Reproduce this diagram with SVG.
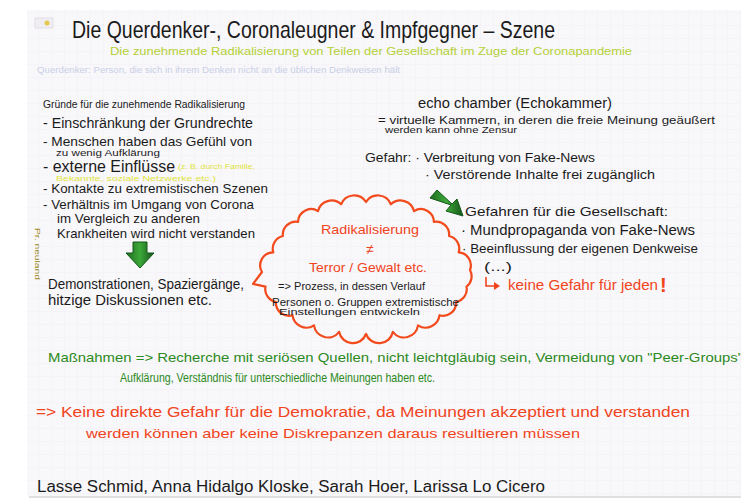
<svg xmlns="http://www.w3.org/2000/svg" width="741" height="502" viewBox="0 0 741 502">
<defs>
<style>
text{font-family:"Liberation Sans","DejaVu Sans",sans-serif}
.k{fill:#1b1b1b}
.g{fill:#2c8a22}
.r{fill:#f1441c}
.y{fill:#dfe43a}
.cloud{fill:none;stroke:#f24a1c;stroke-width:2.2;stroke-linejoin:round}
.arr{fill:url(#ga);stroke:#14561a;stroke-width:1}
</style>
<linearGradient id="ga" x1="0" y1="0" x2="1" y2="0">
<stop offset="0" stop-color="#1d6e1d"/>
<stop offset="0.5" stop-color="#3da83a"/>
<stop offset="1" stop-color="#14561a"/>
</linearGradient>
<pattern id="grid" width="13" height="13" patternUnits="userSpaceOnUse">
<path d="M13 0V13H0" fill="none" stroke="#eeedf3" stroke-width="0.6"/>
</pattern>
</defs>
<rect width="741" height="502" fill="#ffffff"/>
<g id="paper">
<rect x="29" y="12" width="720" height="486" fill="#000" opacity="0.12"/>
<rect x="27" y="10" width="716" height="486" fill="#f8f7fa"/>
<rect x="27" y="10" width="716" height="486" fill="url(#grid)"/>
<rect x="35" y="18" width="18" height="10" fill="#f0eef2" stroke="#d8d4dc" stroke-width="0.6"/>
<circle cx="47" cy="23" r="2.5" fill="#e6c84a"/>
</g>
<g id="title">
<text class="k" x="72" y="38" font-size="24" textLength="483" lengthAdjust="spacingAndGlyphs">Die Querdenker-, Coronaleugner &amp; Impfgegner – Szene</text>
<text x="110" y="55" font-size="11" fill="#b4d136" textLength="522" lengthAdjust="spacingAndGlyphs">Die zunehmende Radikalisierung von Teilen der Gesellschaft im Zuge der  Coronapandemie</text>
<text x="37" y="73" font-size="8.5" fill="#c9d0e6" textLength="363" lengthAdjust="spacingAndGlyphs">Querdenker: Person, die sich in ihrem Denken nicht an die üblichen Denkweisen hält</text>
</g>
<g id="gruende">
<text class="k" x="43" y="108" font-size="10" textLength="202" lengthAdjust="spacingAndGlyphs">Gründe für die zunehmende Radikalisierung</text>
<text class="k" x="43" y="128" font-size="14" textLength="210" lengthAdjust="spacingAndGlyphs">- Einschränkung der Grundrechte</text>
<text class="k" x="43" y="146" font-size="13" textLength="209" lengthAdjust="spacingAndGlyphs">- Menschen haben das Gefühl von</text>
<text class="k" x="56" y="156" font-size="9" textLength="104" lengthAdjust="spacingAndGlyphs">zu wenig Aufklärung</text>
<text class="k" x="43" y="172" font-size="16" textLength="132" lengthAdjust="spacingAndGlyphs">- externe Einflüsse</text>
<text class="y" x="178" y="169" font-size="8" textLength="77" lengthAdjust="spacingAndGlyphs">(z. B. durch Familie,</text>
<text class="y" x="56" y="181" font-size="8" textLength="160" lengthAdjust="spacingAndGlyphs">Bekannte, soziale Netzwerke etc.)</text>
<text class="k" x="43" y="193" font-size="12" textLength="225" lengthAdjust="spacingAndGlyphs">- Kontakte zu extremistischen Szenen</text>
<text class="k" x="43" y="209" font-size="13" textLength="211" lengthAdjust="spacingAndGlyphs">- Verhältnis im Umgang von Corona</text>
<text class="k" x="57" y="223" font-size="13" textLength="143" lengthAdjust="spacingAndGlyphs">im Vergleich zu anderen</text>
<text class="k" x="57" y="238" font-size="13" textLength="198" lengthAdjust="spacingAndGlyphs">Krankheiten wird nicht verstanden</text>
<text x="35" y="228" font-size="8" fill="#9c8a24" transform="rotate(90 35 228)" textLength="52" lengthAdjust="spacingAndGlyphs">Pr. neuland</text>
</g>
<g id="demonstrationen">
<text class="k" x="48" y="289" font-size="14" textLength="196" lengthAdjust="spacingAndGlyphs">Demonstrationen, Spaziergänge,</text>
<text class="k" x="48" y="305" font-size="14" textLength="164" lengthAdjust="spacingAndGlyphs">hitzige Diskussionen etc.</text>
</g>
<g id="radikalisierung">
<path class="cloud" d="M262 272 A13 13 0 0 1 273.3 252.4 A13 13 0 0 1 282.9 236 A13 13 0 0 1 298.1 221.9 A13 13 0 0 1 318 211.1 A14 14 0 0 1 341.1 204.3 A14 14 0 0 1 366 202 A14 14 0 0 1 390.9 204.3 A14 14 0 0 1 414 211.1 A13 13 0 0 1 433.9 221.9 A13 13 0 0 1 449.1 236 A13 13 0 0 1 458.7 252.4 A13 13 0 0 1 470 270 A13 13 0 0 1 466.5 286.6 A13 13 0 0 1 456.1 302 A13 13 0 0 1 439.5 315.2 A14 14 0 0 1 418 325.4 A14 14 0 0 1 392.9 331.8 A14 14 0 0 1 366 334 A14 14 0 0 1 339.1 331.8 A14 14 0 0 1 314 325.4 A14 14 0 0 1 292.5 315.2 A13 13 0 0 1 275.9 302 A13 13 0 0 1 265.5 286.6 L253 284 Z"/>
<text class="r" x="370" y="234" font-size="13" text-anchor="middle" textLength="98" lengthAdjust="spacingAndGlyphs">Radikalisierung</text>
<text class="r" x="370" y="254" font-size="14" text-anchor="middle">≠</text>
<text class="r" x="368" y="272" font-size="13" text-anchor="middle" textLength="118" lengthAdjust="spacingAndGlyphs">Terror / Gewalt etc.</text>
<text class="k" x="278" y="290" font-size="10" textLength="147" lengthAdjust="spacingAndGlyphs">=&gt; Prozess, in dessen Verlauf</text>
<text class="k" x="272" y="306" font-size="10" textLength="187" lengthAdjust="spacingAndGlyphs">Personen o. Gruppen extremistische</text>
<text class="k" x="279" y="315" font-size="9" textLength="141" lengthAdjust="spacingAndGlyphs">Einstellungen entwickeln</text>
</g>
<g id="echokammer">
<text class="k" x="418" y="108" font-size="14" textLength="194" lengthAdjust="spacingAndGlyphs">echo chamber (Echokammer)</text>
<text class="k" x="378" y="124" font-size="10" textLength="337" lengthAdjust="spacingAndGlyphs">= virtuelle Kammern, in deren die freie Meinung geäußert</text>
<text class="k" x="385" y="133" font-size="9" textLength="132" lengthAdjust="spacingAndGlyphs">werden kann ohne Zensur</text>
<text class="k" x="365" y="162" font-size="12" textLength="230" lengthAdjust="spacingAndGlyphs">Gefahr: · Verbreitung von Fake-News</text>
<text class="k" x="425" y="179" font-size="12" textLength="230" lengthAdjust="spacingAndGlyphs">· Verstörende Inhalte frei zugänglich</text>
</g>
<g id="gefahren">
<text class="k" x="465" y="216" font-size="13" textLength="203" lengthAdjust="spacingAndGlyphs">Gefahren für die Gesellschaft:</text>
<text class="k" x="461" y="235" font-size="14" textLength="234" lengthAdjust="spacingAndGlyphs">· Mundpropaganda von Fake-News</text>
<text class="k" x="462" y="253" font-size="13" textLength="236" lengthAdjust="spacingAndGlyphs">· Beeinflussung der eigenen Denkweise</text>
<text class="k" x="484" y="271" font-size="13" textLength="28" lengthAdjust="spacingAndGlyphs">(...)</text>
<path d="M486 277V286H495" fill="none" stroke="#f1441c" stroke-width="1.6"/>
<path d="M494 282L500 286L494 290Z" fill="#f1441c"/>
<text class="r" x="508" y="290" font-size="14" textLength="150" lengthAdjust="spacingAndGlyphs">keine Gefahr für jeden</text>
<text class="r" x="660" y="292" font-size="20" font-weight="bold">!</text>
</g>
<g id="massnahmen">
<text class="g" x="48" y="362" font-size="13" textLength="695" lengthAdjust="spacingAndGlyphs">Maßnahmen =&gt; Recherche mit seriösen Quellen, nicht leichtgläubig sein, Vermeidung von "Peer-Groups"</text>
<text class="g" x="120" y="382" font-size="13" textLength="315" lengthAdjust="spacingAndGlyphs">Aufklärung, Verständnis für unterschiedliche Meinungen haben  etc.</text>
</g>
<g id="fazit">
<text class="r" x="36" y="417" font-size="14" textLength="654" lengthAdjust="spacingAndGlyphs">=&gt; Keine direkte Gefahr für die Demokratie, da Meinungen akzeptiert und verstanden</text>
<text class="r" x="86" y="438" font-size="13" textLength="494" lengthAdjust="spacingAndGlyphs">werden können  aber keine Diskrepanzen daraus resultieren müssen</text>
</g>
<g id="autoren">
<text class="k" x="37" y="492" font-size="16" textLength="508" lengthAdjust="spacingAndGlyphs">Lasse Schmid, Anna Hidalgo Kloske, Sarah Hoer, Larissa Lo Cicero</text>
</g>
<g id="connectors">
<path class="arr" d="M133 242H147V253H154L140 268L126 253H133Z"/>
<path class="arr" d="M430 198L437 190L452 204L457 199L463 216L446 211L451 205Z"/>
</g>
</svg>
